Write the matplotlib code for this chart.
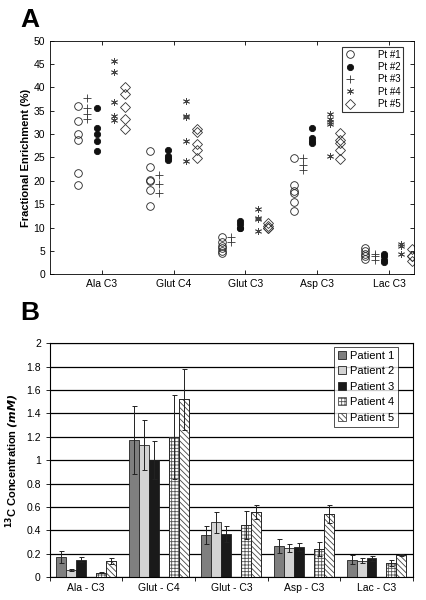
import numpy as np
import matplotlib
matplotlib.use("Agg")
import matplotlib.pyplot as plt

plt.rcParams['font.family'] = ['Liberation Sans', 'DejaVu Sans']
plt.rcParams['hatch.linewidth'] = 0.6

# -------------------- Panel A data --------------------
a_categories = ["Ala C3", "Glut C4", "Glut C3", "Asp C3", "Lac C3"]
a_patients = ["Pt #1", "Pt #2", "Pt #3", "Pt #4", "Pt #5"]
# values[patient][category]
pt1 = [[36.0, 32.8, 30.0, 28.8, 21.7, 19.1],
       [26.3, 22.9, 20.2, 19.9, 18.0, 14.7],
       [8.0, 7.0, 6.0, 5.6, 5.0, 4.6],
       [24.8, 19.2, 17.8, 17.3, 15.5, 13.5],
       [5.6, 4.9, 4.3, 3.8, 3.2]]
pt2 = [[35.5, 31.3, 30.1, 28.6, 26.3],
       [26.6, 25.3, 24.9, 24.5],
       [11.3, 10.8, 10.0, 9.8],
       [31.3, 29.1, 28.6, 28.1],
       [4.4, 3.8, 3.0, 2.6]]
pt3 = [[37.7, 35.5, 34.3, 33.2],
       [21.2, 19.3, 17.5],
       [8.0, 6.8],
       [24.8, 23.5, 22.4],
       [4.3, 3.8, 3.1]]
pt4 = [[45.7, 43.3, 36.8, 33.8, 33.0],
       [37.0, 33.8, 33.7, 28.5, 24.3],
       [13.9, 12.1, 11.9, 9.3],
       [34.3, 33.2, 32.7, 32.2, 25.4],
       [6.5, 6.1, 4.4]]
pt5 = [[40.1, 38.5, 35.8, 33.2, 31.2],
       [31.2, 30.4, 27.8, 26.7, 24.9],
       [11.0, 10.3, 10.0, 9.9],
       [30.3, 28.7, 28.0, 26.5, 24.6],
       [5.5, 4.0, 3.8, 2.8]]

# -------------------- Panel B data --------------------
b_categories = ["Ala - C3", "Glut - C4", "Glut - C3", "Asp - C3", "Lac - C3"]
b_patients = ["Patient 1", "Patient 2", "Patient 3", "Patient 4", "Patient 5"]
b_means = [[0.17, 1.17, 0.36, 0.27, 0.15],
           [0.06, 1.13, 0.47, 0.25, 0.14],
           [0.15, 1.00, 0.37, 0.26, 0.16],
           [0.04, 1.20, 0.45, 0.24, 0.12],
           [0.14, 1.52, 0.56, 0.54, 0.19]]
b_errs = [[0.05, 0.29, 0.08, 0.06, 0.04],
          [0.01, 0.21, 0.09, 0.035, 0.02],
          [0.02, 0.16, 0.07, 0.035, 0.02],
          [0.007, 0.36, 0.12, 0.06, 0.025],
          [0.025, 0.26, 0.06, 0.08, 0.006]]

fig = plt.figure(figsize=(4.26, 6.0), dpi=100)

# -------------------- Panel A --------------------
axA = fig.add_axes([0.117, 0.543, 0.854, 0.389])
offsets = [-0.33, -0.07, -0.20, 0.17, 0.32]  # order: pt1, pt2, pt3, pt4, pt5
styles = [
    dict(marker='o', mfc='none', mec='#222222', ms=5.5, mew=0.6),
    dict(marker='o', mfc='#111111', mec='#111111', ms=4.5, mew=0.6),
    dict(marker='+', mfc='none', mec='#333333', ms=6, mew=0.6),
    dict(marker=(6, 2, 0), mfc='none', mec='#444444', ms=5, mew=0.6),
    dict(marker='D', mfc='none', mec='#333333', ms=5, mew=0.6),
]
for p, (vals, off, st) in enumerate(zip([pt1, pt2, pt3, pt4, pt5], offsets, styles)):
    for i, v in enumerate(vals):
        x = np.full(len(v), i + 1 + off)
        axA.plot(x, v, linestyle='none', label=a_patients[p] if i == 0 else None, **st)

axA.set_xlim(0.28, 5.34)
axA.set_ylim(0, 50)
axA.set_yticks(np.arange(0, 51, 5))
axA.set_xticks(np.arange(1, 6))
axA.set_xticklabels(a_categories)
axA.tick_params(direction='in', top=True, right=True, labelsize=7.5, length=3, width=0.6)
for s in axA.spines.values():
    s.set_linewidth(0.6)
axA.set_ylabel("Fractional Enrichment (%)", fontsize=8, fontweight='bold', labelpad=2)
legA = axA.legend(loc='upper right', bbox_to_anchor=(0.972, 0.975), fontsize=7,
                  frameon=True, fancybox=False, edgecolor='black', handletextpad=2.4,
                  borderpad=0.3, labelspacing=0.25, handlelength=1.0, borderaxespad=0.0)
legA.get_frame().set_linewidth(0.8)
fig.text(0.048, 0.966, "A", fontsize=19, fontweight='bold', va='center')

# -------------------- Panel B --------------------
axB = fig.add_axes([0.117, 0.038, 0.852, 0.390])
x = np.arange(len(b_categories))
w = 0.137
slots = [-2.5, -1.5, -0.5, 1.5, 2.5]
faces = ['#7f7f7f', '#d3d3d3', '#1a1a1a', 'white', 'white']
hatches = [None, None, None, '+++++', '\\\\\\\\\\\\']
hatch_cols = ['black', 'black', 'black', '#555555', '#444444']

axB.set_axisbelow(True)
axB.yaxis.grid(True, color='black', linewidth=0.9)
for p in range(5):
    axB.bar(x + slots[p] * w, b_means[p], w, yerr=b_errs[p], color=faces[p],
            edgecolor=hatch_cols[p] if hatches[p] else '#222222', hatch=hatches[p],
            linewidth=0.6, label=b_patients[p],
            error_kw=dict(ecolor='#222222', elinewidth=0.7, capsize=1.8, capthick=0.7))
    # outline for hatched bars
    if hatches[p]:
        axB.bar(x + slots[p] * w, b_means[p], w, color='none', edgecolor='#222222', linewidth=0.6)

axB.set_xlim(-0.5, 4.5)
axB.set_ylim(0, 2)
axB.set_yticks(np.arange(0, 2.01, 0.2))
axB.set_yticklabels(['0', '0.2', '0.4', '0.6', '0.8', '1', '1.2', '1.4', '1.6', '1.8', '2'])
axB.set_xticks(np.arange(-0.5, 4.6, 1.0), minor=False)
axB.set_xticklabels([''] * 6)
axB.set_xticks(x, minor=True)
axB.set_xticklabels(b_categories, minor=True)
axB.tick_params(axis='x', which='major', direction='out', length=3, width=0.6)
axB.tick_params(axis='x', which='minor', length=0, labelsize=7.5, pad=4)
axB.tick_params(axis='y', direction='out', length=3, width=0.6, labelsize=7.5)
for s in axB.spines.values():
    s.set_linewidth(0.8)
axB.set_ylabel(r"$^{\mathbf{13}}$C Concentration $\mathbfit{(mM)}$", fontsize=8,
               fontweight='bold', labelpad=4)
legB = axB.legend(loc='upper right', bbox_to_anchor=(0.96, 0.985), fontsize=8,
                  frameon=True, fancybox=False, edgecolor='black', handlelength=0.7,
                  handleheight=0.7, handletextpad=0.4, borderpad=0.35, labelspacing=0.5,
                  borderaxespad=0.0)
legB.get_frame().set_linewidth(0.6)
fig.text(0.048, 0.478, "B", fontsize=19, fontweight='bold', va='center')

fig.savefig("out.png", dpi=100)
